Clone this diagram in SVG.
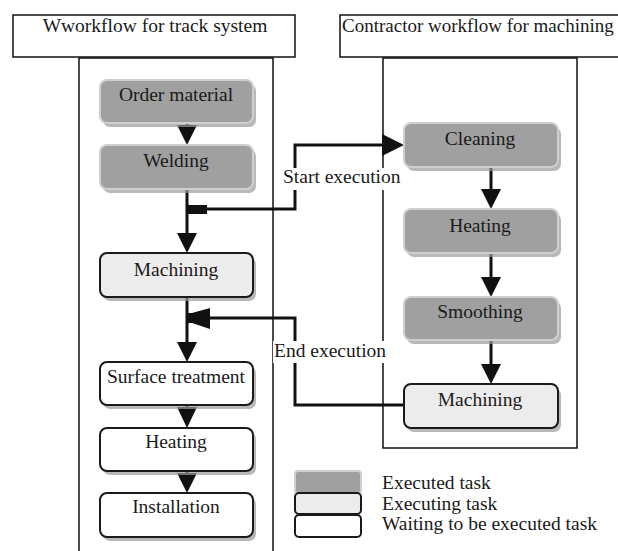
<svg xmlns="http://www.w3.org/2000/svg" width="618" height="551" viewBox="0 0 618 551">
<defs>
<style>
.t{font-family:"Liberation Serif",Tinos,"Times New Roman",Times,"DejaVu Serif","Noto Serif",serif;font-size:19.5px;fill:#1a1a1a}
.title{fill:#fff;stroke:#111;stroke-width:1.5}
.lane{fill:none;stroke:#111;stroke-width:1.5}
.shadow{fill:#9a9a9a;opacity:0.7}
.done{fill:#a0a0a0;stroke:#cfcfcf;stroke-width:2}
.doing{fill:#ececec;stroke:#1a1a1a;stroke-width:2}
.wait{fill:#fff;stroke:#1a1a1a;stroke-width:2}
.c{fill:none;stroke:#111;stroke-width:3}
.ah{fill:#111}
.lbl{fill:#fff}
</style>
</defs>
<rect x="0" y="0" width="618" height="551" fill="#fff"/>
<g id="lane-left">
<rect class="title" x="13" y="15" width="282" height="42"/>
<text class="t" x="155" y="32" text-anchor="middle">Wworkflow for track system</text>
<path class="lane" d="M79,560 V58 H273 V560"/>
</g>
<g id="lane-right">
<rect class="title" x="340" y="15" width="290" height="42"/>
<text class="t" x="342" y="32" style="font-size:19px">Contractor workflow for machining</text>
<rect class="lane" x="383" y="58" width="194" height="390"/>
</g>
<g id="connectors">
<line class="c" x1="187" y1="123" x2="187" y2="130"/>
<polygon class="ah" points="177,125 197,125 187,145"/>
<line class="c" x1="187" y1="189" x2="187" y2="236"/>
<polygon class="ah" points="177,233 197,233 187,253"/>
<line class="c" x1="187" y1="297" x2="187" y2="345"/>
<polygon class="ah" points="177,342 197,342 187,362"/>
<line class="c" x1="187" y1="405" x2="187" y2="410"/>
<polygon class="ah" points="177,407 197,407 187,428"/>
<line class="c" x1="187" y1="471" x2="187" y2="476"/>
<polygon class="ah" points="177,473 197,473 187,493"/>
<rect class="ah" x="187" y="205" width="20" height="9"/>
<polyline class="c" points="207,209 295,209 295,145 385,145"/>
<polygon class="ah" points="382,134 382,156 404,145"/>
<polyline class="c" points="404,405 295,405 295,318 208,318"/>
<polygon class="ah" points="210,308 210,329 192,323 187,323 187,313 192,313"/>
<line class="c" x1="491" y1="167" x2="491" y2="192"/>
<polygon class="ah" points="481,189 501,189 491,209"/>
<line class="c" x1="491" y1="253" x2="491" y2="280"/>
<polygon class="ah" points="481,277 501,277 491,297"/>
<line class="c" x1="491" y1="340" x2="491" y2="367"/>
<polygon class="ah" points="481,364 501,364 491,384"/>
<rect class="lbl" x="281" y="168" width="118" height="22"/>
<text class="t" x="283" y="183">Start execution</text>
<rect class="lbl" x="273" y="341" width="112" height="22"/>
<text class="t" x="274" y="357">End execution</text>
</g>
<g id="n-order">
<rect class="shadow" x="103" y="84" width="153" height="43" rx="7"/>
<rect class="done" x="100" y="80" width="153" height="43" rx="7"/>
<text class="t" x="176" y="101" text-anchor="middle">Order material</text>
</g>
<g id="n-welding">
<rect class="shadow" x="103" y="149" width="153" height="44" rx="7"/>
<rect class="done" x="100" y="145" width="153" height="44" rx="7"/>
<text class="t" x="176" y="167" text-anchor="middle">Welding</text>
</g>
<g id="n-machining-left">
<rect class="shadow" x="103" y="257" width="153" height="44" rx="7"/>
<rect class="doing" x="100" y="253" width="153" height="44" rx="7"/>
<text class="t" x="176" y="276" text-anchor="middle">Machining</text>
</g>
<g id="n-surface">
<rect class="shadow" x="103" y="366" width="153" height="43" rx="7"/>
<rect class="wait" x="100" y="362" width="153" height="43" rx="7"/>
<text class="t" x="176" y="383" text-anchor="middle">Surface treatment</text>
</g>
<g id="n-heating-left">
<rect class="shadow" x="103" y="432" width="153" height="43" rx="7"/>
<rect class="wait" x="100" y="428" width="153" height="43" rx="7"/>
<text class="t" x="176" y="448" text-anchor="middle">Heating</text>
</g>
<g id="n-installation">
<rect class="shadow" x="103" y="497" width="153" height="44" rx="7"/>
<rect class="wait" x="100" y="493" width="153" height="44" rx="7"/>
<text class="t" x="176" y="513" text-anchor="middle">Installation</text>
</g>
<g id="n-cleaning">
<rect class="shadow" x="407" y="127" width="154" height="44" rx="7"/>
<rect class="done" x="404" y="123" width="154" height="44" rx="7"/>
<text class="t" x="480" y="145" text-anchor="middle">Cleaning</text>
</g>
<g id="n-heating-right">
<rect class="shadow" x="407" y="213" width="154" height="44" rx="7"/>
<rect class="done" x="404" y="209" width="154" height="44" rx="7"/>
<text class="t" x="480" y="232" text-anchor="middle">Heating</text>
</g>
<g id="n-smoothing">
<rect class="shadow" x="407" y="301" width="154" height="43" rx="7"/>
<rect class="done" x="404" y="297" width="154" height="43" rx="7"/>
<text class="t" x="480" y="318" text-anchor="middle">Smoothing</text>
</g>
<g id="n-machining-right">
<rect class="shadow" x="407" y="388" width="154" height="44" rx="7"/>
<rect class="doing" x="404" y="384" width="154" height="44" rx="7"/>
<text class="t" x="480" y="406" text-anchor="middle">Machining</text>
</g>
<g id="legend">
<rect class="done" x="295" y="471" width="66" height="22" rx="3"/>
<rect class="doing" x="295" y="493" width="66" height="21" rx="4"/>
<rect class="wait" x="295" y="515" width="66" height="22" rx="4"/>
<text class="t" x="382" y="489">Executed task</text>
<text class="t" x="382" y="510">Executing task</text>
<text class="t" x="382" y="530">Waiting to be executed task</text>
</g>
</svg>
